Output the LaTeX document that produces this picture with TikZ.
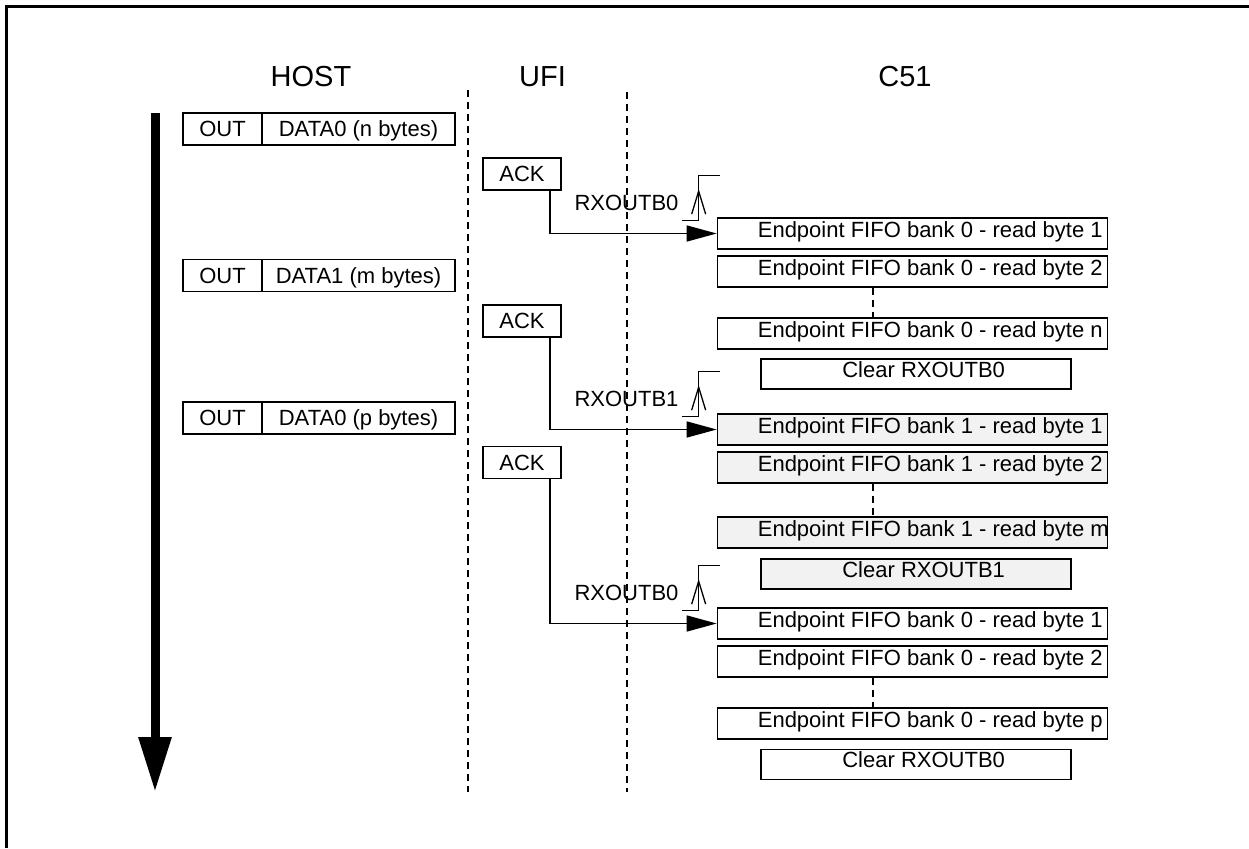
\documentclass[tikz,border=0pt]{standalone}
\usepackage{fontspec}
\setmainfont{Liberation Sans}
\usetikzlibrary{arrows.meta,calc}
\begin{document}
\begin{tikzpicture}[x=1pt,y=-1pt,
  every node/.style={font=\fontsize{22}{24}\selectfont, inner sep=0pt},
  bx/.style={draw, line width=1.7pt},
  hbox/.style={bx, minimum height=32pt, text height=15pt, text depth=0pt},
  ackbox/.style={bx, minimum width=78pt, minimum height=32pt, text height=15pt, text depth=0pt},
  cbox/.style={bx, minimum width=390pt, minimum height=31pt},
  clrbox/.style={bx, minimum width=310pt, minimum height=30pt},
  bankone/.style={fill=black!5},
  ctext/.style={anchor=base west},
  hdr/.style={font=\fontsize{29}{32}\selectfont, anchor=base},
  lane/.style={line width=1.4pt, dash pattern=on 7pt off 5pt},
  conn/.style={line width=1.5pt, -{Triangle[length=30pt,width=16pt]}},
  sig/.style={line width=1.3pt}
]
\useasboundingbox (0,0) rectangle (1249,848);
% frame
\draw[line width=3pt] (6.5,848) -- (6.5,6.5) -- (1249,6.5);

% headers
\node[hdr] (hHost) at (311,87) {HOST};
\node[hdr] (hUfi) at (542.5,87) {UFI};
\node[hdr] (hC) at (905,87) {C51};

% lanes
\coordinate (l1a) at (468,90);
\coordinate (l1b) at (468,792);
\coordinate (l2a) at (627,92);
\coordinate (l2b) at (627,792);
\draw[lane] (l1a) -- (l1b);
\draw[lane] (l2a) -- (l2b);

% time arrow
\coordinate (ta) at (155,113);
\coordinate (tb) at (155,792);
\draw[line width=9pt, -{Triangle[length=55pt,width=31pt]}] (ta) -- (tb);

% host packets
\node[hbox, minimum width=79pt] (o1) at (222.5,129) {OUT};
\node[hbox, minimum width=193pt] (d1) at (358.5,129) {DATA0 (n bytes)};
\node[hbox, minimum width=79pt] (o2) at (222.5,275.5) {OUT};
\node[hbox, minimum width=193pt] (d2) at (358.5,275.5) {DATA1 (m bytes)};
\node[hbox, minimum width=79pt] (o3) at (222.5,418) {OUT};
\node[hbox, minimum width=193pt] (d3) at (358.5,418) {DATA0 (p bytes)};

% ACK
\node[ackbox] (a1) at (522,174) {ACK};
\node[ackbox] (a2) at (522,321) {ACK};
\node[ackbox] (a3) at (522,462.5) {ACK};

% C51 boxes
\node[cbox] (c1) at (912.5,233.5) {};
\node[cbox] (c2) at (912.5,271.5) {};
\node[cbox] (c3) at (912.5,333.5) {};
\node[clrbox] (k1) at (916,374) {};
\node[cbox,bankone] (c4) at (912.5,429.5) {};
\node[cbox,bankone] (c5) at (912.5,467.5) {};
\node[cbox,bankone] (c6) at (912.5,532.5) {};
\node[clrbox,bankone] (k2) at (916,574) {};
\node[cbox] (c7) at (912.5,623.5) {};
\node[cbox] (c8) at (912.5,661.5) {};
\node[cbox] (c9) at (912.5,723.5) {};
\node[clrbox] (k3) at (916,764.5) {};

\node[ctext] (t1) at ($(c1.west)+(41,3.5)$) {Endpoint FIFO bank 0 - read byte 1};
\node[ctext] (t2) at ($(c2.west)+(41,3.5)$) {Endpoint FIFO bank 0 - read byte 2};
\node[ctext] (t3) at ($(c3.west)+(41,3.5)$) {Endpoint FIFO bank 0 - read byte n};
\node[ctext] (u1) at ($(k1.west)+(82,3)$) {Clear RXOUTB0};
\node[ctext] (t4) at ($(c4.west)+(41,3.5)$) {Endpoint FIFO bank 1 - read byte 1};
\node[ctext] (t5) at ($(c5.west)+(41,3.5)$) {Endpoint FIFO bank 1 - read byte 2};
\node[ctext] (t6) at ($(c6.west)+(41,3.5)$) {Endpoint FIFO bank 1 - read byte m};
\node[ctext] (u2) at ($(k2.west)+(82,3)$) {Clear RXOUTB1};
\node[ctext] (t7) at ($(c7.west)+(41,3.5)$) {Endpoint FIFO bank 0 - read byte 1};
\node[ctext] (t8) at ($(c8.west)+(41,3.5)$) {Endpoint FIFO bank 0 - read byte 2};
\node[ctext] (t9) at ($(c9.west)+(41,3.5)$) {Endpoint FIFO bank 0 - read byte p};
\node[ctext] (u3) at ($(k3.west)+(82,3)$) {Clear RXOUTB0};

% ellipsis dashes
\draw[lane] ($(c2.south)+(-39.5,0)$) -- ($(c3.north)+(-39.5,0)$);
\draw[lane] ($(c5.south)+(-39.5,0)$) -- ($(c6.north)+(-39.5,0)$);
\draw[lane] ($(c8.south)+(-39.5,0)$) -- ($(c9.north)+(-39.5,0)$);

% ACK -> C51 arrows
\draw[conn] ($(a1.south)+(28,0)$) |- (c1.west);
\draw[conn] ($(a2.south)+(28,0)$) |- (c4.west);
\draw[conn] ($(a3.south)+(28,0)$) |- (c7.west);

% RXOUT signals
\foreach \b/\s/\lab in {c1/s1/RXOUTB0, c4/s2/RXOUTB1, c7/s3/RXOUTB0}{
  \coordinate (\s) at ($(\b.north west)+(-18,0)$);
  \draw[sig] ($(\s)+(-17,3)$) -- ($(\s)+(0,3)$) -- ($(\s)+(0,-42)$) -- ($(\s)+(21,-42)$);
  \draw[sig] ($(\s)+(-7,-3)$) -- ($(\s)+(0,-26)$) -- ($(\s)+(7,-3)$);
  \node[anchor=base east] (\s lab) at ($(\s)+(-20,-7)$) {\lab};
}
\end{tikzpicture}
\end{document}
